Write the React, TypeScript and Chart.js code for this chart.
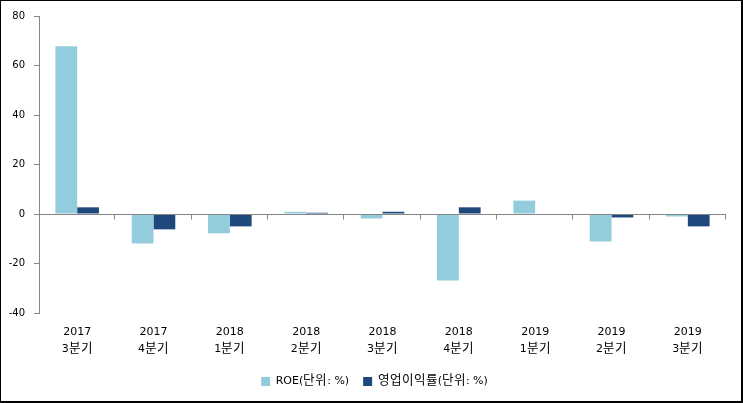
import { useEffect, useRef } from 'react';
import { Chart, registerables } from 'chart.js';

Chart.register(...registerables);

const years = ['2017', '2017', '2018', '2018', '2018', '2018', '2019', '2019', '2019'];
const quarters = ['3분기', '4분기', '1분기', '2분기', '3분기', '4분기', '1분기', '2분기', '3분기'];
const roe = [67.8, -11.9, -7.8, 0.9, -1.8, -26.9, 5.4, -11.1, -1.0];
const opMargin = [2.7, -6.2, -5.0, 0.5, 0.9, 2.7, 0.0, -1.4, -5.0];
const yTicks = { min: -40, max: 80, step: 20 };

const FONT = "'DejaVu Sans', 'KRBig', 'Noto Sans CJK KR', sans-serif";
const AXIS_COLOR = '#868686';

const FONT_CSS = `
@font-face {
  font-family: 'KRBig';
  src: local('Noto Sans CJK KR'), local('Noto Sans CJK KR Regular'), local('NotoSansCJKkr-Regular');
  unicode-range: U+1100-11FF, U+3130-318F, U+AC00-D7AF;
  size-adjust: 114%;
}`;

const zeroAxis = {
  id: 'zeroAxis',
  afterDatasetsDraw(chart: any) {
    const { ctx, chartArea, scales } = chart;
    const x = scales.x;
    const y = scales.y;
    const y0 = Math.round(y.getPixelForValue(0)) + 0.5;
    ctx.save();
    ctx.strokeStyle = AXIS_COLOR;
    ctx.lineWidth = 1;
    ctx.beginPath();
    ctx.moveTo(chartArea.left, y0);
    ctx.lineTo(chartArea.right, y0);
    const n = x.ticks.length;
    for (let i = 0; i < n; i++) {
      const px = i < n - 1 ? (x.getPixelForTick(i) + x.getPixelForTick(i + 1)) / 2 : chartArea.right;
      const rx = Math.round(px) - 0.5;
      ctx.moveTo(rx, y0);
      ctx.lineTo(rx, y0 + 5);
    }
    ctx.stroke();
    ctx.restore();
  },
};

export default function App() {
  const ref = useRef<HTMLCanvasElement>(null);
  useEffect(() => {
    let chart: Chart | null = null;
    let cancelled = false;
    const style = document.createElement('style');
    style.textContent = FONT_CSS;
    document.head.appendChild(style);

    const build = () => {
      if (cancelled || !ref.current) return;
      chart = new Chart(ref.current, {
        type: 'bar',
        data: {
          labels: years.map((y, i) => [y, quarters[i]]),
          datasets: [
            {
              label: 'ROE(단위: %)',
              data: roe,
              backgroundColor: '#93CDDD',
              barPercentage: 1,
              categoryPercentage: 0.571,
            },
            {
              label: '영업이익률(단위: %)',
              data: opMargin,
              backgroundColor: '#1F497D',
              barPercentage: 1,
              categoryPercentage: 0.571,
            },
          ],
        },
        options: {
          animation: false,
          responsive: false,
          layout: { padding: { top: 15, right: 0, left: 7, bottom: 4 } },
          plugins: {
            legend: {
              position: 'bottom',
              labels: {
                boxWidth: 9,
                boxHeight: 9,
                padding: 14,
                color: '#000',
                font: { family: FONT, size: 11 },
              },
            },
            tooltip: { enabled: false },
          },
          scales: {
            x: {
              grid: { display: false, drawTicks: false },
              border: { display: false },
              ticks: {
                color: '#000',
                padding: 11,
                font: { family: FONT, size: 11, lineHeight: 1.5 },
                maxRotation: 0,
              },
              afterFit: (s: any) => {
                s.height = 49;
              },
            },
            y: {
              min: yTicks.min,
              max: yTicks.max,
              ticks: {
                stepSize: yTicks.step,
                color: '#000',
                padding: 9,
                font: { family: FONT, size: 10 },
              },
              grid: { drawOnChartArea: false, drawTicks: true, tickLength: 5, color: AXIS_COLOR },
              border: { display: true, color: AXIS_COLOR },
              afterFit: (s: any) => {
                s.width = 31;
              },
            },
            spacer: {
              type: 'linear',
              position: 'right',
              min: 0,
              max: 1,
              display: true,
              ticks: { display: false },
              grid: { display: false, drawTicks: false },
              border: { display: false },
              afterFit: (s: any) => {
                s.width = 15;
              },
            },
          },
        },
        plugins: [zeroAxis],
      });
    };

    const fonts: any = (document as any).fonts;
    if (fonts && fonts.load) {
      Promise.all([
        fonts.load("11px 'KRBig'", '분기단위영업이익률'),
        fonts.load("11px 'DejaVu Sans'", '2017'),
      ])
        .catch(() => null)
        .then(build);
    } else {
      build();
    }

    return () => {
      cancelled = true;
      if (chart) chart.destroy();
      style.remove();
    };
  }, []);

  return (
    <div
      style={{
        position: 'absolute',
        left: 0,
        top: 0,
        width: 743,
        height: 403,
        boxSizing: 'border-box',
        borderStyle: 'solid',
        borderColor: '#000',
        borderWidth: '1px 2px 2px 1px',
        background: '#fff',
      }}
    >
      <canvas ref={ref} width={740} height={400} style={{ display: 'block' }} />
    </div>
  );
}
